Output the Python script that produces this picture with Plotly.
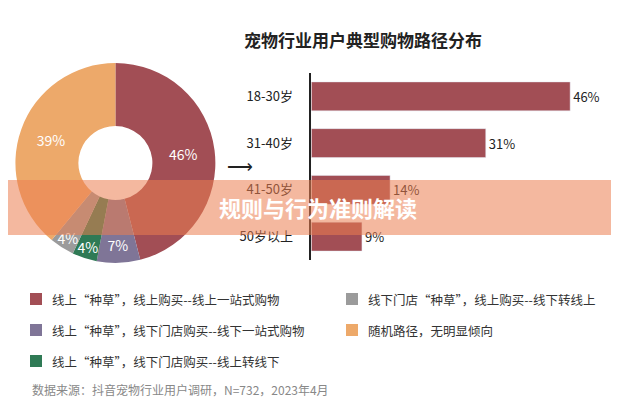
import plotly.graph_objects as go

# donut data
path_labels = ['线上"种草"，线上购买--线上一站式购物', '线上"种草"，线下门店购买--线下一站式购物',
               '线上"种草"，线下门店购买--线上转线下', '线下门店"种草"，线上购买--线下转线上',
               '随机路径，无明显倾向']
path_values = [46, 7, 4, 4, 39]
path_colors = ['#A24E55', '#7F7597', '#2F7A55', '#9B9B9B', '#EDA96A']

# bar data
ages = ['18-30岁', '31-40岁', '41-50岁', '50岁以上']
age_values = [46, 31, 14, 9]

fig = go.Figure()
fig.add_trace(go.Pie(
    values=path_values, labels=path_labels, marker=dict(colors=path_colors),
    hole=0.37, sort=False, direction='clockwise', rotation=0,
    texttemplate='%{value}%', textinfo='text', textposition='inside',
    insidetextfont=dict(color='white', size=14), insidetextorientation='horizontal',
    domain=dict(x=[0.012, 0.335], y=[0.3625, 0.8625]), showlegend=False))

fig.add_trace(go.Bar(
    y=ages, x=age_values, orientation='h', marker_color='#A24E55', width=0.62,
    text=[f'{v}%' for v in age_values], textposition='outside',
    textfont=dict(size=13, color='#222'), cliponaxis=False, showlegend=False))

fig.update_layout(
    width=619, height=400, margin=dict(l=0, r=0, t=0, b=0),
    paper_bgcolor='white', plot_bgcolor='white',
    font=dict(family='Noto Sans CJK SC', color='#222'),
    uniformtext=dict(minsize=13, mode='show'),
    xaxis=dict(domain=[0.49, 0.96], range=[0, 51.7], visible=False),
    yaxis=dict(domain=[0.37, 0.8375], autorange='reversed', showline=True,
               linecolor='#222', linewidth=1.5, ticks='', tickfont=dict(size=13),
               ticklabelstandoff=14))

anns = [
    dict(x=0.574, y=32, text='<b>宠物行业用户典型购物路径分布</b>', font=dict(size=17)),
    dict(x=232 / 619, y=157, text='⟶', font=dict(size=18)),
    dict(x=22 / 619, y=381, text='数据来源：抖音宠物行业用户调研，N=732，2023年4月',
         font=dict(size=12, color='#888'), xanchor='left'),
]
# legend: left column then right column
leg_pos = [(22, 291), (22, 322), (22, 353), (338, 291), (338, 322)]
shapes = []
for i, (px_, py_) in enumerate(leg_pos):
    shapes.append(dict(type='rect', xref='paper', yref='paper',
                       x0=px_ / 619, x1=(px_ + 12) / 619,
                       y0=1 - (py_ + 6) / 400, y1=1 - (py_ - 6) / 400,
                       fillcolor=path_colors[i], line_width=0))
    anns.append(dict(x=(px_ + 20) / 619, y=py_, text=path_labels[i].replace('"', '“', 1).replace('"', '”', 1),
                     xanchor='left', font=dict(size=12.5, color='#333')))
# overlay banner
shapes.append(dict(type='rect', xref='paper', yref='paper', x0=0, x1=1,
                   y0=1 - 227 / 400, y1=1 - 172 / 400,
                   fillcolor='rgba(235,125,80,0.55)', line_width=0, layer='above'))
anns.append(dict(x=0.5, y=199, text='<b>规则与行为准则解读</b>',
                 font=dict(size=22, color='white')))

for a in anns:
    a.setdefault('xref', 'paper')
    a['yref'] = 'paper'
    a['y'] = 1 - a['y'] / 400
    a.setdefault('xanchor', 'center')
    a['yanchor'] = 'middle'
    a['showarrow'] = False
fig.update_layout(annotations=anns, shapes=shapes)

fig.write_html('out.html')
